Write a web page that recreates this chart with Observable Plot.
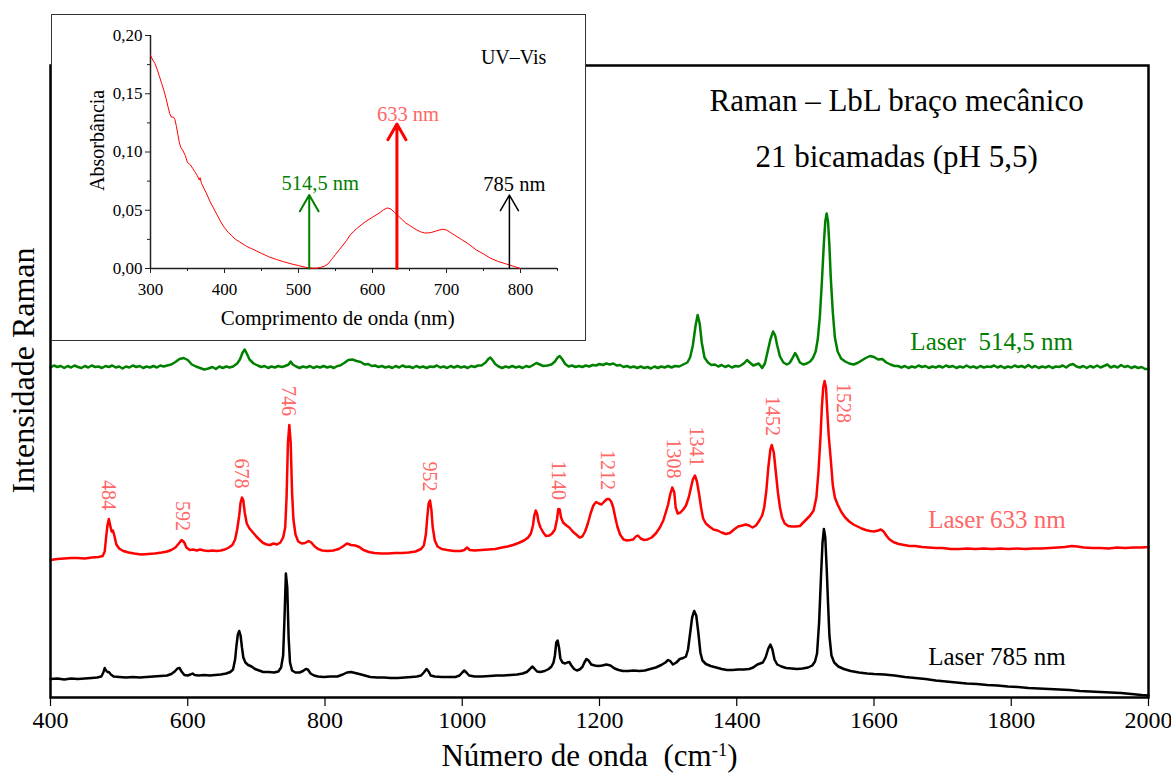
<!DOCTYPE html>
<html lang="pt">
<head>
<meta charset="utf-8">
<title>Raman – LbL braço mecânico</title>
<script src="https://cdn.jsdelivr.net/npm/d3@7"></script>
<script src="https://cdn.jsdelivr.net/npm/@observablehq/plot@0.6"></script>
<style>
  html, body { margin: 0; padding: 0; background: #fff; overflow: hidden; }
  #fig { position: relative; width: 1171px; height: 773px; background: #fff; }
  #inset { position: absolute; left: 52px; top: 15px; width: 533px; height: 325px; outline: 1.5px solid #333; background: #fff; }
  svg text { white-space: pre; }
</style>
</head>
<body>
<div id="fig">
  <div id="main"></div>
  <div id="inset"></div>
</div>
<script>
// ---- Raman spectra: [wavenumber (cm-1), intensity (a.u., stacked)] ----
const green514 = [
[400,330],[405,332],[410,330.5],[415,331.5],[420,329.5],[425,331.5],[430,330],[435,332],[440,330.5],[445,329.5],[450,331.5],[455,330],[460,332],[465,330.5],[470,331],[475,329.5],[480,331.5],[485,330.5],[490,332],[495,330],[500,331],[505,329],[510,331],[515,330],[520,332],[525,330.5],[530,331.5],[535,329.5],[540,331],[545,330],[550,331.5],[555,330],[560,332],[565,331],[570,332],
[576,333],[582,335.5],[588,338.5],[594,339.5],[600,337.5],[606,333],[612,331],[618,329.5],[624,328],[630,329],[636,330.5],[641,328.5],[646,331],[651,329.5],[656,331],[661,330],[666,331],[672,334],[676,338],[680,345],[683,348],[686,344],[690,338],[696,334],
[702,332],[707,330.5],[712,331.5],[717,329.5],[722,331],[727,330],[732,331.5],[737,330.5],[742,331.5],[747,333],[750,336],[753,333],[758,331],[763,329.5],[768,331],[773,330],[778,331.5],[783,329.5],[788,331],[793,330],[798,331.5],[803,330],[808,331],[813,329.5],[818,331.5],[822,332],[828,334.5],[834,337.5],[840,338],[846,336.5],[852,335.5],[858,333],[863,333.5],[868,331.5],[873,332],[878,330.5],[883,331.5],[888,330],[893,331],[898,329.5],[903,331.5],[908,330],[913,332],[918,330.5],[923,331],[928,329.5],[933,331.5],[938,330],[943,331],[948,329.5],[953,331],[958,330.5],[963,332],[968,330],[973,331],[978,329.5],[983,331.5],[988,330],[993,331.5],[998,330],[1003,331],[1008,329.5],[1013,331.5],[1018,330.5],[1023,332],[1028,332],
[1034,335],[1038,338.5],[1041,340],[1044,337.5],[1048,333.5],[1053,331],[1058,329.5],[1063,331],[1068,330],[1073,331.5],[1078,330],[1083,331],[1088,329.5],[1093,331.5],[1098,330.5],[1102,332],[1108,334.5],[1113,333],[1118,331.5],[1124,332],[1130,333],[1135,336],[1139,340],[1142,341.5],[1146,338],
[1150,333.5],[1155,331],[1160,332],[1165,330.5],[1170,331.5],[1175,330.5],[1180,332],[1185,331],[1190,332.5],[1195,332],[1200,333.5],[1205,332.5],[1210,334],[1215,333],[1220,334],[1225,332],[1230,332.5],[1235,330.5],[1240,331.5],[1245,330],[1250,331],[1255,329.5],[1260,331],[1265,329.5],[1270,330.5],[1275,329],[1280,331],[1285,329.5],[1290,331],[1295,330],[1300,331.5],[1305,330],[1310,331.5],[1316,331],[1322,333],
[1328,335],[1332,340],[1336,352],[1340,372],[1343,382.5],[1346,374],[1349,355],[1353,340],[1358,335],[1363,332.5],[1368,333],[1373,331],[1378,332.5],[1383,330.5],[1388,332],[1393,330],[1398,331.5],[1403,331],[1407,332.5],[1411,334.5],[1415,337.5],[1419,335],[1424,332],[1428,333],[1432,334],[1437,329.5],[1441,334],[1445,346],[1449,358],[1453,366],[1456,362],[1459,352],[1463,341],[1468,335],[1473,333],[1477,334.5],[1481,339],[1485,344.5],[1488,341],[1492,335],[1497,333],[1502,334],[1507,336],[1511,339.5],[1515,346],[1518,358],[1521,380],[1524,415],[1527,455],[1529,476],[1531,484],[1533,476],[1535,452],[1537,420],[1540,385],[1543,360],[1547,346],[1552,339],[1558,336],[1564,334],[1570,333],[1576,334.5],[1582,337],[1588,339.5],[1594,341.5],[1600,340.5],[1606,338],[1612,338.5],[1618,335],[1624,333],[1630,331.5],
[1635,331.5],[1640,330],[1645,331.5],[1650,329.5],[1655,331],[1660,330],[1665,332],[1670,330.5],[1675,331.5],[1680,329.5],[1685,331],[1690,330],[1695,331.5],[1700,330],[1705,332],[1710,330.5],[1715,331.5],[1720,329.5],[1725,331],[1730,330],[1735,332],[1740,330],[1745,331],[1750,329.5],[1755,331.5],[1760,330],[1765,331],[1770,330.5],[1775,332],[1780,330],[1785,331.5],[1790,329.5],[1795,331],[1800,330],[1805,332],[1810,330.5],[1815,331.5],[1820,330],[1825,332.5],[1830,330],[1835,331.5],[1840,329.5],[1845,331],[1850,330],[1855,331.5],[1860,329.5],[1865,331],[1870,330.5],[1875,332],[1880,330],[1885,332.5],[1890,333.5],[1895,331],[1900,330],[1905,331.5],[1910,329.5],[1915,331.5],[1920,330],[1925,332],[1930,330],[1935,331.5],[1940,333],[1945,330],[1950,331.5],[1955,330],[1960,332.5],[1965,330.5],[1970,331.5],[1975,329.5],[1980,331],[1985,329.5],[1990,330.5],[1995,328.5],[2000,328.5]
];

const red633 = [
[400,137.5],[410,138.5],[420,139],[430,139.5],[440,139.5],[450,139],[460,140],[470,140.5],[476,141.5],[479,146],[481,160],[483,172],[485,178.5],[487,172],[489,166],[491,167],[493,162],[496,153],[500,149],[506,146.5],[514,145],[522,144],[532,143],[542,143.5],[552,144],[562,145],[570,146],[576,147.5],[582,150],[587,154],[591,157.5],[595,155],[598,150],[603,147.5],[608,148],[613,147],[618,148],[624,147],[630,146.5],[636,147],[642,146.5],[648,147],[654,148],[660,150],[665,152.5],[669,158],[672,168],[675,182],[677,195],[679,200],[681,197],[683,185],[686,174],[690,169],[695,165],[700,161],[705,157.5],[710,154.5],[715,153],[720,152.5],[725,154],[730,153],[735,155],[739,160],[742,170],[744,200],[746,255],[748,272.5],[750,255],[752,205],[754,178],[757,163],[761,156],[766,154],[771,154.5],[776,156.5],[780,155],[785,151],[790,148.5],[796,147],[804,146.5],[812,147],[820,148.5],[826,151],[832,154],[838,152.5],[844,152],[850,150.5],[856,147.5],[864,145.5],[872,144.5],[882,144],[892,144],[902,144.5],[912,144.5],[922,145],[932,146],[940,148.5],[944,152],[947,163],[949,180],[951,194],[953,197],[955,188],[957,170],[960,157],[964,151],[970,148.5],[978,147.5],[988,146.5],[998,146.5],[1003,147.5],[1007,150],[1011,147.5],[1018,147],[1028,147.5],[1038,148],[1048,148.5],[1058,150],[1066,151],[1074,152.5],[1082,154.5],[1090,157],[1096,160],[1100,164],[1103,172],[1105,182],[1107,187],[1109,184],[1111,176],[1114,170],[1118,165],[1122,161.5],[1127,162],[1131,164],[1135,168],[1138,178],[1140,188.5],[1142,188],[1144,180],[1147,175],[1151,172.5],[1156,170],[1161,166],[1166,163],[1171,160],[1175,161],[1179,166],[1183,174],[1187,184],[1191,192],[1195,195.5],[1199,194],[1203,193],[1207,196],[1211,198.5],[1214,198.5],[1217,196],[1220,190],[1223,180],[1226,171],[1230,163],[1235,158],[1240,157],[1245,157.5],[1249,158],[1253,161],[1256,162],[1260,159],[1265,157.5],[1270,158],[1276,160],[1282,164],[1288,170],[1293,177],[1297,186],[1300,193],[1303,203],[1306,210],[1309,205],[1311,190],[1314,184],[1318,185],[1322,188],[1326,192],[1330,200],[1333,209],[1336,218],[1339,222],[1342,216],[1345,204],[1348,190],[1351,179],[1355,174],[1360,171],[1366,168],[1372,167],[1378,165],[1384,163.5],[1390,164.5],[1396,168],[1402,171],[1408,172],[1413,173],[1418,172],[1423,170],[1428,172],[1433,177],[1437,182],[1440,190],[1443,206],[1446,230],[1449,248],[1451,252.5],[1454,245],[1457,225],[1460,205],[1463,190],[1466,180],[1470,174],[1475,171.5],[1480,171],[1486,171],[1492,171.5],[1497,175],[1502,178.5],[1507,182],[1512,187],[1516,200],[1519,225],[1522,260],[1524,290],[1526,310],[1528,316.5],[1530,310],[1532,285],[1534,262],[1537,238],[1540,212],[1543,200],[1547,193],[1552,186],[1558,180],[1564,176],[1570,173],[1576,171],[1582,169],[1588,167.5],[1594,166.5],[1600,166],[1606,167],[1610,168],[1614,166],[1618,162],[1622,158.5],[1628,155.5],[1636,153.5],[1644,152.5],[1652,151.5],[1660,151.5],[1670,150.5],[1680,150],[1690,149.5],[1700,149.5],[1712,148.5],[1724,148.5],[1736,149],[1748,148.5],[1760,149],[1772,148.5],[1784,149],[1796,148.5],[1808,149],[1820,148.5],[1832,149],[1844,149],[1856,149.5],[1868,150],[1878,150.5],[1888,151.5],[1896,151],[1906,150],[1918,149.5],[1930,149.5],[1942,149],[1954,150],[1966,149.5],[1978,150],[1990,150],[2000,150.5]
];

const black785 = [
[400,18.5],[410,19],[420,18],[430,19],[440,18.5],[450,19],[460,19.5],[468,20],[474,21],[477,25],[479,29.5],[481,27],[483,25.5],[485,25.5],[488,23],[492,21],[500,20.5],[510,20],[520,20.5],[530,20],[540,20.5],[550,21],[560,21.5],[570,22],[576,23.5],[581,26],[585,29],[588,29.5],[591,26],[595,22.5],[600,22],[604,23],[607,24],[610,22.5],[616,22],[624,22.5],[632,22],[640,22.5],[648,23],[656,24],[662,25.5],[666,28],[669,38],[671,52],[673,63],[675,66.5],[677,62],[679,50],[681,40],[684,35],[688,32.5],[693,31],[698,28.5],[704,27],[710,25.5],[718,25.5],[726,25],[732,26],[736,30],[739,42],[741,80],[743,124],[745,110],[747,60],[749,35],[752,27],[757,25],[763,25],[768,26.5],[772,28.5],[775,28],[779,24],[784,22],[790,21],[798,20.5],[808,21],[818,21],[826,23],[832,25],[838,25.5],[844,24.5],[850,23.5],[858,22],[866,20.5],[876,20],[886,20],[896,19.5],[906,19.5],[916,20],[926,20.5],[934,21],[940,22],[944,25],[948,28.5],[951,26],[954,22],[960,21],[970,20.5],[980,20.5],[990,20.5],[996,22],[1000,25],[1003,27],[1006,25],[1010,22],[1018,21],[1028,21],[1040,21.5],[1050,22],[1060,22],[1070,22.5],[1080,23],[1088,24],[1094,25.5],[1098,28],[1102,31],[1105,29],[1109,26],[1114,25.5],[1120,26.5],[1126,28.5],[1130,31],[1133,35],[1135,42],[1137,55],[1139,57],[1141,50],[1143,39],[1146,35],[1150,34],[1153,35],[1156,35.5],[1159,32],[1163,28.5],[1167,27],[1171,28],[1175,30.5],[1178,35],[1181,38.5],[1184,37],[1188,33],[1193,32],[1198,31.5],[1204,32],[1210,33],[1216,32],[1222,29],[1228,27.5],[1234,26.5],[1242,26.5],[1250,27],[1258,26.5],[1266,27],[1274,28.5],[1282,30],[1290,32.5],[1296,35],[1300,37.5],[1303,36.5],[1307,33],[1312,35],[1317,38.5],[1322,39.5],[1326,41],[1329,48],[1332,64],[1335,80],[1338,86.5],[1341,82],[1344,65],[1347,45],[1350,37],[1355,33.5],[1362,31.5],[1370,30],[1378,28.5],[1386,27.5],[1394,27.5],[1402,28],[1410,28],[1418,28.5],[1424,30],[1430,33],[1434,34],[1438,35],[1442,40],[1446,49],[1449,53],[1452,48],[1455,38],[1459,33],[1465,31],[1472,29.5],[1480,29],[1488,28.5],[1496,29],[1504,30],[1510,32],[1514,36],[1517,44],[1520,75],[1523,125],[1525,155],[1527,168.5],[1529,160],[1531,130],[1533,95],[1535,62],[1538,42],[1542,35],[1548,31],[1556,28.5],[1566,26.5],[1578,25],[1590,24],[1600,23.5],[1615,23],[1630,22],[1645,20.5],[1660,19.5],[1675,18.5],[1690,17],[1705,16],[1720,15],[1735,14],[1750,13.5],[1765,12.5],[1780,12],[1795,11],[1810,10.5],[1825,9.5],[1840,9],[1855,8.5],[1870,8],[1885,7.5],[1900,6.5],[1915,6],[1930,5.5],[1945,5],[1960,4.5],[1975,3.5],[1990,2.5],[2000,2]
];

// assigned bands of the 633 nm spectrum
const peakLabels = [484, 592, 678, 746, 952, 1140, 1212, 1308, 1341, 1452, 1528];
const xTicks = [400, 600, 800, 1000, 1200, 1400, 1600, 1800, 2000];

// ---- UV-Vis absorption: [wavelength (nm), absorbance] ----
const uvvis = [
[300,0.183],[303,0.179],[306,0.176],[309,0.171],[312,0.165],[315,0.159],[318,0.153],[321,0.146],[324,0.138],[326,0.133],[328,0.130],[331,0.130],[333,0.128],[335,0.122],[337,0.115],[339,0.108],[341,0.104],[344,0.101],[347,0.097],[350,0.091],[354,0.089],[357,0.086],[360,0.083],[363,0.080],[366,0.076],[367,0.078],[369,0.073],[372,0.069],[376,0.064],[380,0.058],[385,0.052],[390,0.046],[395,0.040],[400,0.035],[405,0.031],[410,0.028],[415,0.025],[420,0.023],[430,0.019],[440,0.016],[450,0.013],[460,0.010],[470,0.0078],[480,0.0058],[490,0.004],[500,0.0025],[510,0.001],[515,0.0005],[520,0.0002],[525,0.0003],[530,0.001],[535,0.002],[540,0.004],[545,0.008],[550,0.012],[555,0.016],[560,0.020],[565,0.024],[570,0.029],[575,0.032],[580,0.035],[590,0.040],[600,0.044],[610,0.048],[615,0.0505],[620,0.052],[625,0.051],[630,0.048],[635,0.045],[640,0.042],[645,0.039],[650,0.037],[655,0.035],[660,0.033],[665,0.0315],[670,0.0305],[675,0.0305],[680,0.031],[685,0.032],[690,0.033],[695,0.0337],[700,0.033],[705,0.031],[710,0.029],[720,0.025],[730,0.021],[740,0.016],[750,0.0125],[760,0.0086],[770,0.006],[780,0.004],[790,0.002],[800,0]
];
const uvTicks = [300, 400, 500, 600, 700, 800];
const uvMinorTicks = [350, 450, 550, 650, 750, 850];
const absTicks = [0, 0.05, 0.10, 0.15, 0.20];
const absMinorTicks = [0.025, 0.075, 0.125, 0.175];
const laserNm = [514.5, 633, 785];
const laserText = ["514,5 nm", "633 nm", "785 nm"];

// ---- shared styling ----
const serif = "'Liberation Serif', 'Times New Roman', serif";
const GREEN = "#008000";
const RED = "#ff0000";
const LIGHT_RED = "#ff6666";
const wx = d => d[0];
const wy = d => d[1];

// top of the 633 nm band nearest to a labelled wavenumber
const bandTop = v => d3.max(red633.filter(d => Math.abs(d[0] - v) <= 6), wy);

const axisTitle = "Número de onda  (cm-1)";
const label = (extra) => ({text: d => d, lineAnchor: "middle", fontFamily: serif, ...extra});

const main = Plot.plot({
  width: 1171,
  height: 773,
  marginLeft: 50,
  marginRight: 23,
  marginTop: 65,
  marginBottom: 76,
  style: {fontFamily: serif, background: "white", color: "black"},
  x: {domain: [400, 2000]},
  y: {domain: [0, 632], axis: null},
  marks: [
    Plot.line(black785, {x: wx, y: wy, stroke: "black", strokeWidth: 2.5}),
    Plot.line(red633, {x: wx, y: wy, stroke: RED, strokeWidth: 2.5}),
    Plot.line(green514, {x: wx, y: wy, stroke: GREEN, strokeWidth: 2.5}),
    Plot.frame({stroke: "black", strokeWidth: 2.5}),
    Plot.axisX(xTicks, {anchor: "bottom", tickSize: 9, tickPadding: 4, fontSize: 24, fontFamily: serif, strokeWidth: 1.2, label: null, tickFormat: d => String(d)}),
    Plot.text([axisTitle], label({frameAnchor: "bottom", textAnchor: "middle", dx: -10, dy: 59, fontSize: 31})),
    Plot.text(["Intensidade Raman"], label({frameAnchor: "left", textAnchor: "middle", dx: -27, dy: -11, rotate: -90, fontSize: 32})),
    Plot.text(["Raman – LbL braço mecânico"], label({x: 1633, frameAnchor: "top", textAnchor: "middle", dy: 36, fontSize: 31})),
    Plot.text(["21 bicamadas (pH 5,5)"], label({x: 1633, frameAnchor: "top", textAnchor: "middle", dy: 92, fontSize: 31})),
    Plot.text(["Laser  514,5 nm"], label({x: 1653, y: 356, textAnchor: "start", fontSize: 25, fill: GREEN})),
    Plot.text(["Laser 633 nm"], label({x: 1679, y: 178, textAnchor: "start", fontSize: 25, fill: LIGHT_RED})),
    Plot.text(["Laser 785 nm"], label({x: 1679, y: 41, textAnchor: "start", fontSize: 25, fill: "black"})),
    Plot.text(peakLabels.filter(v => v !== 1528), label({
      x: d => d, y: d => bandTop(d), text: d => String(d),
      rotate: 90, textAnchor: "end", dy: -9, fontSize: 20, fill: LIGHT_RED
    })),
    Plot.text(peakLabels.filter(v => v === 1528), label({
      x: d => d, y: d => bandTop(d), text: d => String(d),
      rotate: 90, textAnchor: "start", dx: 19, dy: 2, fontSize: 20, fill: LIGHT_RED
    }))
  ]
});
document.getElementById("main").append(main);

// superscript for the unit of the wavenumber axis
d3.select(main).selectAll("text")
  .filter(function () { return this.textContent === axisTitle; })
  .each(function () {
    const t = d3.select(this);
    t.text(null);
    t.append("tspan").text("Número de onda  (cm");
    t.append("tspan").attr("baseline-shift", "super").attr("font-size", "60%").text("-1");
    t.append("tspan").text(")");
  });

// ---- inset: UV-Vis spectrum with the three excitation lines ----
const comma2 = d => d.toFixed(2).replace(".", ",");
const lasers = laserNm.map((nm, i) => ({nm, label: laserText[i]}));
const laserLabel = (extra) => ({x: d => d.nm, text: d => d.label, lineAnchor: "middle", textAnchor: "middle", fontSize: 20.5, fontFamily: serif, ...extra});

const inset = Plot.plot({
  width: 533,
  height: 325,
  marginLeft: 98,
  marginRight: 28,
  marginTop: 20,
  marginBottom: 72,
  style: {fontFamily: serif, background: "white", color: "black"},
  x: {domain: [300, 850]},
  y: {domain: [0, 0.2]},
  marks: [
    Plot.axisX(uvTicks, {anchor: "bottom", tickSize: 5, tickPadding: 9, fontSize: 17, fontFamily: serif, label: null, tickFormat: d => String(d), stroke: "#222"}),
    Plot.axisX(uvMinorTicks, {anchor: "bottom", tickSize: 3, label: null, tickFormat: () => "", stroke: "#222"}),
    Plot.axisY(absTicks, {anchor: "left", tickSize: 5, tickPadding: 3, fontSize: 17, fontFamily: serif, label: null, tickFormat: comma2, stroke: "#222"}),
    Plot.axisY(absMinorTicks, {anchor: "left", tickSize: 3, label: null, tickFormat: () => "", stroke: "#222"}),
    Plot.ruleX([300], {y1: 0, y2: 0.2, stroke: "#222", strokeWidth: 1.5}),
    Plot.ruleY([0], {x1: 300, x2: 850, stroke: "#222", strokeWidth: 1.5}),
    Plot.line(uvvis, {x: wx, y: wy, stroke: RED, strokeWidth: 1}),
    Plot.arrow([lasers[0]], {x1: d => d.nm, x2: d => d.nm, y1: 0, y2: 0.063, stroke: GREEN, strokeWidth: 2, headLength: 14, headAngle: 60}),
    Plot.arrow([lasers[1]], {x1: d => d.nm, x2: d => d.nm, y1: 0, y2: 0.124, stroke: RED, strokeWidth: 3, headLength: 9, headAngle: 60}),
    Plot.arrow([lasers[2]], {x1: d => d.nm, x2: d => d.nm, y1: 0, y2: 0.063, stroke: "black", strokeWidth: 1.5, headLength: 18, headAngle: 60}),
    Plot.text([lasers[0]], laserLabel({y: 0.063, dx: 11, dy: -12, fill: GREEN})),
    Plot.text([lasers[1]], laserLabel({y: 0.124, dx: 11, dy: -10, fill: LIGHT_RED})),
    Plot.text([lasers[2]], laserLabel({y: 0.063, dx: 5, dy: -11, fill: "black"})),
    Plot.text(["UV–Vis"], label({x: 835, y: 0.181, textAnchor: "end", fontSize: 20})),
    Plot.text(["Comprimento de onda (nm)"], label({x: 553, frameAnchor: "bottom", textAnchor: "middle", dy: 50, fontSize: 21})),
    Plot.text(["Absorbância"], label({y: 0.11, frameAnchor: "left", textAnchor: "middle", dx: -53, rotate: -90, fontSize: 20}))
  ]
});
document.getElementById("inset").append(inset);
</script>
</body>
</html>
